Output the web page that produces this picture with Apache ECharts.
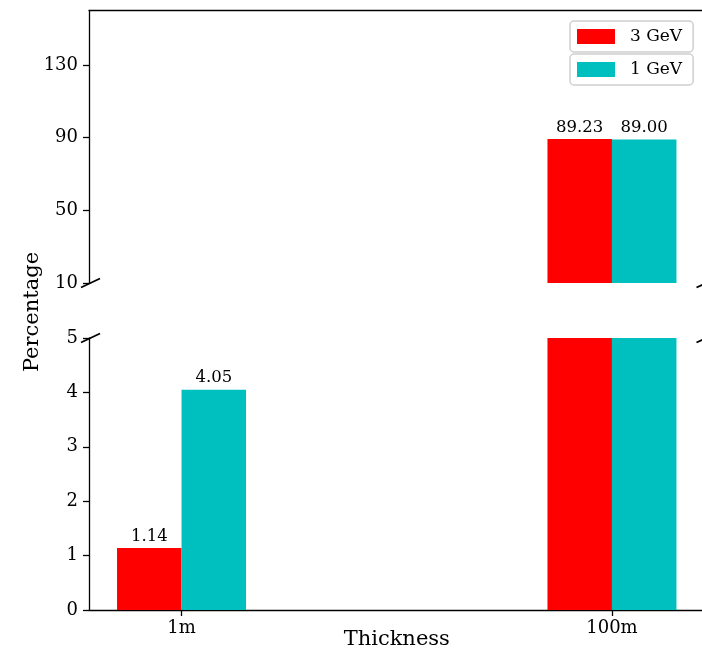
<!DOCTYPE html>
<html><head><meta charset="utf-8">
<script src="https://cdn.jsdelivr.net/npm/echarts@6/dist/echarts.min.js"></script>
<style>html,body{margin:0;padding:0;background:#fff}#c{width:702px;height:656px}</style>
</head><body><div id="c"></div>
<script>
const categories = ['1m', '100m'];
const gev3 = [1.14, 89.23];
const gev1 = [4.05, 89.00];
const seriesNames = ['3 GeV', '1 GeV'];
const topTicks = [10, 50, 90, 130];
const bottomTicks = [0, 1, 2, 3, 4, 5];
const topRange = [10, 160];
const bottomRange = [0, 5];
const xRange = [-0.215, 1.215];
const catPos = categories.map((c, i) => i);

const FONT = 'DejaVu Serif';
const chart = echarts.init(document.getElementById('c'), null, {renderer: 'canvas'});

const gridL = 89, gridW = 615.5;
const lineStyle = {color: '#000', width: 1.3};
const TICKFS = 18;

function pairs(vals) { return vals.map((v, i) => [catPos[i], v]); }
function labelFor(range) {
  return {
    show: true, position: 'top', distance: 3, color: '#000',
    fontFamily: FONT, fontSize: 16.5,
    formatter: p => { const v = p.value[1]; return (v >= range[0] && v <= range[1]) ? v.toFixed(2) : ''; }
  };
}
function barSeries(name, vals, color, idx, range) {
  return {
    name: name, type: 'bar', xAxisIndex: idx, yAxisIndex: idx,
    data: pairs(vals), barWidth: 64.5, barGap: '0%', clip: true,
    itemStyle: {color: color}, label: labelFor(range), emphasis: {disabled: true}
  };
}
function legendBox(name, top) {
  return {
    data: [{name: name, icon: 'rect'}], left: 570, top: top, orient: 'vertical',
    itemWidth: 38, itemHeight: 15, padding: [7, 11, 7, 7],
    borderColor: '#cfcfcf', borderWidth: 1.5, borderRadius: 4, backgroundColor: '#fff',
    textStyle: {fontFamily: FONT, fontSize: 17, color: '#000', padding: [0, 0, 0, 10]},
    selectedMode: false
  };
}
function breakMark(x, y) {
  return {type: 'line', shape: {x1: x - 8, y1: y + 4.5, x2: x + 11, y2: y - 4.5},
          style: {stroke: '#000', lineWidth: 1.8}, z: 100};
}

const option = {
  backgroundColor: '#fff',
  animation: false,
  grid: [
    {left: gridL, top: 10.5, width: gridW, height: 272.5, outerBoundsMode: 'none'},
    {left: gridL, top: 338, width: gridW, height: 272, outerBoundsMode: 'none'}
  ],
  xAxis: [
    {gridIndex: 0, type: 'value', min: xRange[0], max: xRange[1], position: 'top',
     axisLine: {show: true, onZero: false, lineStyle: lineStyle},
     axisTick: {show: false}, axisLabel: {show: false}, splitLine: {show: false}},
    {gridIndex: 1, type: 'value', min: xRange[0], max: xRange[1], position: 'bottom',
     name: 'Thickness', nameLocation: 'middle', nameGap: 19, nameMoveOverlap: false,
     nameTextStyle: {fontFamily: FONT, fontSize: 21, color: '#000'},
     axisLine: {show: true, onZero: false, lineStyle: lineStyle},
     axisTick: {show: true, length: 6, customValues: catPos, lineStyle: lineStyle},
     axisLabel: {show: true, customValues: catPos, margin: 9, fontFamily: FONT, fontSize: TICKFS, color: '#000',
                 formatter: v => categories[Math.round(v)]},
     splitLine: {show: false}}
  ],
  yAxis: [
    {gridIndex: 0, type: 'value', min: topRange[0], max: topRange[1],
     axisLine: {show: true, onZero: false, lineStyle: lineStyle},
     axisTick: {show: true, length: 6, customValues: topTicks, lineStyle: lineStyle},
     axisLabel: {show: true, customValues: topTicks, margin: 11, fontFamily: FONT, fontSize: TICKFS, color: '#000'},
     splitLine: {show: false}},
    {gridIndex: 1, type: 'value', min: bottomRange[0], max: bottomRange[1],
     axisLine: {show: true, onZero: false, lineStyle: lineStyle},
     axisTick: {show: true, length: 6, customValues: bottomTicks, lineStyle: lineStyle},
     axisLabel: {show: true, customValues: bottomTicks, margin: 11, fontFamily: FONT, fontSize: TICKFS, color: '#000'},
     splitLine: {show: false}}
  ],
  legend: [legendBox(seriesNames[0], 21), legendBox(seriesNames[1], 54)],
  series: [
    barSeries(seriesNames[0], gev3, '#ff0000', 0, topRange),
    barSeries(seriesNames[1], gev1, '#00bfbf', 0, topRange),
    barSeries(seriesNames[0], gev3, '#ff0000', 1, bottomRange),
    barSeries(seriesNames[1], gev1, '#00bfbf', 1, bottomRange)
  ],
  graphic: [
    breakMark(89, 283), breakMark(89, 338), breakMark(704.5, 283), breakMark(704.5, 338),
    {type: 'text', x: 33, y: 312, rotation: Math.PI / 2,
     style: {text: 'Percentage', fontFamily: FONT, fontSize: 21, fill: '#000', textAlign: 'center', textVerticalAlign: 'middle'}}
  ]
};
chart.setOption(option);
</script></body></html>
